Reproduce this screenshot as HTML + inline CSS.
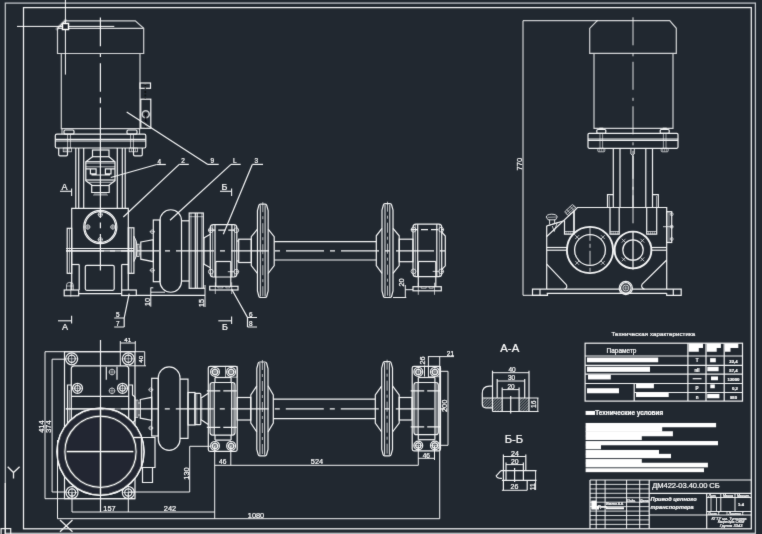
<!DOCTYPE html>
<html><head><meta charset="utf-8"><title>ДМ422-03.40.00 СБ</title>
<style>
html,body{margin:0;padding:0;background:#212830;overflow:hidden}
svg{display:block}
text{font-family:"Liberation Sans","DejaVu Sans",sans-serif;fill:#fff;stroke:#fff;stroke-width:0.22}
</style></head><body>
<svg width="762" height="534" viewBox="0 0 762 534">
<rect x="0" y="0" width="762" height="534" fill="#212830"/>
<defs><filter id="soft" x="0" y="0" width="762" height="534" filterUnits="userSpaceOnUse"><feConvolveMatrix order="3" kernelMatrix="0.015 0.07 0.015 0.07 0.66 0.07 0.015 0.07 0.015" divisor="1" edgeMode="duplicate" preserveAlpha="false"/></filter></defs>
<g fill="none" stroke="#f4f5f6" stroke-width="1.2" stroke-linecap="butt" filter="url(#soft)">
<g stroke="#c4c8cc">
<rect x="5.3" y="3.1" width="750.1" height="530.2" stroke-width="1.25"/>
</g>
<rect x="23.5" y="7.6" width="727.8" height="521.2" stroke-width="1.25"/>
<g id="front">
<g stroke="#d4d6d8">
<path d="M57.5,28.3 L65,20.8 H135.3 L143.7,28.3 V53.5 H57.5 Z"/>
<line x1="57.5" y1="28.3" x2="143.7" y2="28.3"/>
<path d="M61.3,53.5 V128.7 H140 V53.5"/>
</g>
<rect x="140" y="83" width="10.5" height="5.3"/>
<rect x="140.8" y="99.2" width="10.0" height="29.1"/>
<circle cx="145.7" cy="114.2" r="3.5" stroke-width="1.6" stroke="#c9cbcd"/>
<line x1="145.6" y1="113" x2="145.6" y2="128" stroke="#0c0f12" stroke-width="1.6"/>
<path d="M143.6,115 L145.6,111.8 L147.6,115 Z" fill="#0c0f12" stroke="none"/>
<line x1="145.4" y1="84" x2="145.4" y2="99" stroke="#0c0f12" stroke-width="1.3" stroke-dasharray="2 1.5"/>
<line x1="62" y1="128.7" x2="62" y2="134.2" stroke-width="0.9"/>
<line x1="139.6" y1="128.7" x2="139.6" y2="134.2" stroke-width="0.9"/>
<rect x="55.3" y="134.2" width="90.5" height="13.8" rx="1.5"/>
<line x1="55.3" y1="139.3" x2="145.8" y2="139.3"/>
<line x1="55.3" y1="141" x2="145.8" y2="141"/>
<line x1="67.6" y1="134.2" x2="67.6" y2="148" stroke-width="0.7"/>
<line x1="70.4" y1="134.2" x2="70.4" y2="148" stroke-width="0.7"/>
<rect x="64" y="130" width="10" height="4.2" rx="1.2"/>
<line x1="130.6" y1="134.2" x2="130.6" y2="148" stroke-width="0.7"/>
<line x1="133.4" y1="134.2" x2="133.4" y2="148" stroke-width="0.7"/>
<rect x="127" y="130" width="10" height="4.2" rx="1.2"/>
<path d="M58.7,148 V154.5 Q58.7,155.8 60,155.8 H66.2 Q67.5,155.8 67.5,154.5 V148"/>
<rect x="63.2" y="148" width="8.4" height="3.8" stroke-width="0.7"/>
<line x1="65" y1="148.5" x2="65" y2="151.5" stroke-width="0.5"/>
<line x1="67" y1="148.5" x2="67" y2="151.5" stroke-width="0.5"/>
<line x1="69" y1="148.5" x2="69" y2="151.5" stroke-width="0.5"/>
<path d="M142.3,148 V154.5 Q142.3,155.8 141,155.8 H134.8 Q133.5,155.8 133.5,154.5 V148"/>
<rect x="129.2" y="148" width="8.4" height="3.8" stroke-width="0.7"/>
<line x1="131.5" y1="148.5" x2="131.5" y2="151.5" stroke-width="0.5"/>
<line x1="133.5" y1="148.5" x2="133.5" y2="151.5" stroke-width="0.5"/>
<line x1="135.5" y1="148.5" x2="135.5" y2="151.5" stroke-width="0.5"/>
<line x1="75.8" y1="148" x2="75.8" y2="208.3"/>
<line x1="78.7" y1="148" x2="78.7" y2="208.3"/>
<line x1="83.7" y1="148" x2="83.7" y2="208.3"/>
<line x1="117.3" y1="148" x2="117.3" y2="208.3"/>
<line x1="122.3" y1="148" x2="122.3" y2="208.3"/>
<line x1="125.2" y1="148" x2="125.2" y2="208.3"/>
<rect x="92.5" y="150" width="16.5" height="6.7"/>
<path d="M92.5,156.7 L85.8,161.7 V180.8 L91.7,185 V192.5 H109.2 V185 L115,180.8 V161.7 L109,156.7"/>
<line x1="85.8" y1="161.7" x2="115" y2="161.7"/>
<line x1="85.8" y1="163.2" x2="115" y2="163.2" stroke-width="0.6"/>
<line x1="85.8" y1="180" x2="115" y2="180"/>
<line x1="87.5" y1="182.3" x2="113.3" y2="182.3" stroke-width="0.7"/>
<line x1="91.7" y1="185.5" x2="109.2" y2="185.5"/>
<path d="M85.8,168.9 H96.1 V173.8 H90.4 V168.9 M115,168.9 H105.4 V173.8 H111 V168.9 M91.5,175 H110"/>
<line x1="85.8" y1="166.8" x2="115" y2="166.8" stroke-width="0.7"/>
<line x1="95" y1="192.5" x2="95" y2="195" stroke-width="0.6"/>
<line x1="97" y1="192.5" x2="97" y2="195" stroke-width="0.6"/>
<line x1="99" y1="192.5" x2="99" y2="195" stroke-width="0.6"/>
<line x1="102" y1="192.5" x2="102" y2="195" stroke-width="0.6"/>
<line x1="104" y1="192.5" x2="104" y2="195" stroke-width="0.6"/>
<line x1="106" y1="192.5" x2="106" y2="195" stroke-width="0.6"/>
<line x1="93" y1="195" x2="108" y2="195" stroke-width="0.6"/>
<line x1="100.4" y1="17.5" x2="100.4" y2="46.3"/>
<line x1="100.4" y1="53.7" x2="100.4" y2="57"/>
<line x1="100.4" y1="63.3" x2="100.4" y2="91.7"/>
<line x1="100.4" y1="97.5" x2="100.4" y2="103.3"/>
<line x1="100.4" y1="107.5" x2="100.4" y2="218"/>
<line x1="100.4" y1="222.5" x2="100.4" y2="228.3"/>
<line x1="100.4" y1="234" x2="100.4" y2="270.5"/>
<path d="M71.7,290 V208.3 H128.3 V290"/>
<rect x="67.2" y="228.3" width="4.5" height="45.0"/>
<rect x="128.3" y="227.8" width="5.6" height="45.5"/>
<line x1="129.8" y1="228.3" x2="129.8" y2="273.3" stroke-width="0.6"/>
<line x1="131.5" y1="228.3" x2="131.5" y2="273.3" stroke-width="0.6"/>
<line x1="69.5" y1="228.3" x2="69.5" y2="273.3" stroke-width="0.6"/>
<circle cx="100.3" cy="227" r="16.6"/>
<circle cx="100.3" cy="227" r="15.4"/>
<circle cx="100.3" cy="214.6" r="2.1" stroke-width="0.7"/>
<line x1="97.7" y1="214.6" x2="102.89999999999999" y2="214.6" stroke-width="0.6"/>
<line x1="100.3" y1="212.0" x2="100.3" y2="217.2" stroke-width="0.6"/>
<circle cx="100.3" cy="239.6" r="2.1" stroke-width="0.7"/>
<line x1="97.7" y1="239.6" x2="102.89999999999999" y2="239.6" stroke-width="0.6"/>
<line x1="100.3" y1="237.0" x2="100.3" y2="242.2" stroke-width="0.6"/>
<circle cx="87.8" cy="227" r="2.1" stroke-width="0.7"/>
<line x1="85.2" y1="227" x2="90.39999999999999" y2="227" stroke-width="0.6"/>
<line x1="87.8" y1="224.4" x2="87.8" y2="229.6" stroke-width="0.6"/>
<circle cx="112.8" cy="227" r="2.1" stroke-width="0.7"/>
<line x1="110.2" y1="227" x2="115.39999999999999" y2="227" stroke-width="0.6"/>
<line x1="112.8" y1="224.4" x2="112.8" y2="229.6" stroke-width="0.6"/>
<line x1="66" y1="248.5" x2="134" y2="248.5"/>
<line x1="66" y1="250.9" x2="447" y2="250.9" stroke-dasharray="38 6 5 6"/>
<line x1="66" y1="250.9" x2="134" y2="250.9"/>
<line x1="71.7" y1="264.5" x2="79.2" y2="264.5"/>
<line x1="121.7" y1="264.5" x2="128.3" y2="264.5"/>
<line x1="79.2" y1="264.5" x2="79.2" y2="290"/>
<line x1="121.7" y1="264.5" x2="121.7" y2="290"/>
<rect x="85.3" y="265.3" width="28.9" height="25.0" rx="1.5"/>
<rect x="64.2" y="290" width="14.5" height="5.8"/>
<rect x="121.7" y="290" width="14.6" height="5.5"/>
<line x1="78.7" y1="293.7" x2="121.7" y2="293.7"/>
<line x1="70.8" y1="282.5" x2="70.8" y2="296.7" stroke-width="0.7"/>
<path d="M66.5,290 V285 Q66.5,282.3 70,282.3 Q73.3,282.3 73.3,285 V290" stroke-width="0.7"/>
<line x1="66.5" y1="286" x2="73.3" y2="286" stroke-width="0.6"/>
<line x1="136.3" y1="295.3" x2="205" y2="295.3"/>
<path d="M133.9,236.2 Q137.4,240.5 137,248.8 Q137.4,257 133.9,261.5 Z" fill="#8d9196" stroke-width="0.9"/>
<rect x="137" y="244.2" width="2.1" height="12.2" stroke-width="0.8"/>
<path d="M140.8,242 L153.3,239.7 V261.7 L140.8,259.2 Z"/>
<line x1="139.1" y1="247" x2="140.8" y2="247" stroke-width="0.7"/>
<line x1="139.1" y1="254" x2="140.8" y2="254" stroke-width="0.7"/>
<rect x="153.3" y="220" width="6.7" height="61.7"/>
<circle cx="152.3" cy="231.7" r="1.8" stroke-width="0.7"/>
<line x1="149.5" y1="231.7" x2="155" y2="231.7" stroke-width="0.6"/>
<circle cx="152.3" cy="270.3" r="1.8" stroke-width="0.7"/>
<line x1="149.5" y1="270.3" x2="155" y2="270.3" stroke-width="0.6"/>
<path d="M160,281.5 V220.5 A10.75,10.75 0 0 1 181.5,220.5 V281.5 A10.75,10.75 0 0 1 160,281.5 Z"/>
<line x1="181.5" y1="220.8" x2="189.2" y2="220.8"/>
<line x1="181.5" y1="281" x2="189.2" y2="281"/>
<rect x="189.2" y="213" width="14.1" height="75.3"/>
<line x1="189.2" y1="216.7" x2="203.3" y2="216.7" stroke-width="0.6"/>
<line x1="195.3" y1="213" x2="195.3" y2="288.3"/>
<line x1="197.2" y1="213" x2="197.2" y2="288.3"/>
<line x1="191" y1="213" x2="191" y2="288.3" stroke-width="0.6"/>
<line x1="201.8" y1="213" x2="201.8" y2="288.3" stroke-width="0.6"/>
<path d="M203.3,238.3 L210.3,234.2 M203.3,263.7 L210.3,267.8"/>
<line x1="204.5" y1="238" x2="204.5" y2="264" stroke-width="0.6"/>
<rect x="210.3" y="224.7" width="26.5" height="52.3" rx="3"/>
<line x1="212.60000000000002" y1="225.2" x2="212.60000000000002" y2="276.5" stroke-width="0.6"/>
<line x1="234.5" y1="225.2" x2="234.5" y2="276.5" stroke-width="0.6"/>
<line x1="215.0" y1="224.7" x2="215.0" y2="277"/>
<line x1="231.9" y1="224.7" x2="231.9" y2="277"/>
<circle cx="210.8" cy="230.2" r="2.4" stroke-width="0.8"/>
<circle cx="236.3" cy="230.2" r="2.4" stroke-width="0.8"/>
<circle cx="210.8" cy="271.7" r="2.4" stroke-width="0.8"/>
<circle cx="236.3" cy="271.7" r="2.4" stroke-width="0.8"/>
<line x1="208.3" y1="230.2" x2="238.8" y2="230.2" stroke-dasharray="7 3"/>
<line x1="227.8" y1="271.7" x2="238.8" y2="271.7" stroke-width="0.8" stroke-dasharray="6 2"/>
<line x1="215.8" y1="261.5" x2="230.8" y2="261.5"/>
<line x1="215.8" y1="261.5" x2="215.8" y2="286.3"/>
<line x1="230.8" y1="261.5" x2="230.8" y2="286.3"/>
<rect x="209.7" y="286.3" width="28.3" height="3.7"/>
<line x1="215.3" y1="282.3" x2="215.3" y2="294" stroke-width="0.7"/>
<line x1="231.7" y1="282.3" x2="231.7" y2="294" stroke-width="0.7"/>
<path d="M217.85,286.3 v1.6 h5 v-1.6 M225.85,286.3 v1.6 h4 v-1.6" stroke-width="0.6"/>
<line x1="236.8" y1="241" x2="238.7" y2="241"/>
<line x1="236.8" y1="261" x2="238.7" y2="261"/>
<rect x="238.7" y="239.2" width="12.6" height="23.3"/>
<path d="M257.45,210.7 L258.84999999999997,205.39999999999998 Q259.15,204.2 260.45,204.2 H265.15000000000003 Q266.45000000000005,204.2 266.75000000000006,205.39999999999998 L268.15000000000003,210.7 V291.0 L266.75000000000006,296.3 Q266.45000000000005,297.5 265.15000000000003,297.5 H260.45 Q259.15,297.5 258.84999999999997,296.3 L257.45,291.0 Z"/>
<line x1="260.3" y1="205.2" x2="260.3" y2="296.5" stroke-width="0.95"/>
<line x1="265.1" y1="205.2" x2="265.1" y2="296.5" stroke-width="0.95"/>
<line x1="262.8" y1="202.2" x2="262.8" y2="299.5" stroke-width="0.7" stroke-dasharray="10 4 3 4"/>
<path d="M257.45,229.2 L251.3,236.7 V265.5 L257.45,273.5"/>
<path d="M268.15000000000003,229.2 L274.2,236.7 V265.5 L268.15000000000003,273.5"/>
<line x1="274.2" y1="241.7" x2="376.3" y2="241.7"/>
<line x1="274.2" y1="260" x2="376.3" y2="260"/>
<path d="M382.0,210.2 L383.4,204.89999999999998 Q383.7,203.7 385.0,203.7 H390.0 Q391.3,203.7 391.6,204.89999999999998 L393.0,210.2 V291.0 L391.6,296.3 Q391.3,297.5 390.0,297.5 H385.0 Q383.7,297.5 383.4,296.3 L382.0,291.0 Z"/>
<line x1="385.0" y1="204.7" x2="385.0" y2="296.5" stroke-width="0.95"/>
<line x1="389.8" y1="204.7" x2="389.8" y2="296.5" stroke-width="0.95"/>
<line x1="387.5" y1="201.7" x2="387.5" y2="299.5" stroke-width="0.7" stroke-dasharray="10 4 3 4"/>
<path d="M382.0,228.3 L376.3,235.8 V265.5 L382.0,273.3"/>
<path d="M393.0,228.3 L399.2,235.8 V265.5 L393.0,273.3"/>
<rect x="399.2" y="239.2" width="13.8" height="22.5"/>
<rect x="413" y="224.2" width="28.7" height="52.5" rx="3"/>
<line x1="415.3" y1="224.7" x2="415.3" y2="276.2" stroke-width="0.6"/>
<line x1="439.4" y1="224.7" x2="439.4" y2="276.2" stroke-width="0.6"/>
<line x1="417.7" y1="224.2" x2="417.7" y2="276.7"/>
<line x1="436.8" y1="224.2" x2="436.8" y2="276.7"/>
<circle cx="413.5" cy="229.7" r="2.4" stroke-width="0.8"/>
<circle cx="441.2" cy="229.7" r="2.4" stroke-width="0.8"/>
<circle cx="413.5" cy="271.4" r="2.4" stroke-width="0.8"/>
<circle cx="441.2" cy="271.4" r="2.4" stroke-width="0.8"/>
<line x1="411" y1="229.7" x2="443.7" y2="229.7" stroke-dasharray="7 3"/>
<line x1="432.7" y1="271.4" x2="443.7" y2="271.4" stroke-width="0.8" stroke-dasharray="6 2"/>
<line x1="418.3" y1="261.5" x2="435.8" y2="261.5"/>
<line x1="418.3" y1="261.5" x2="418.3" y2="286.7"/>
<line x1="435.8" y1="261.5" x2="435.8" y2="286.7"/>
<rect x="413" y="286.7" width="28.3" height="4.1"/>
<line x1="418.3" y1="282.7" x2="418.3" y2="294.8" stroke-width="0.7"/>
<line x1="434.5" y1="282.7" x2="434.5" y2="294.8" stroke-width="0.7"/>
<path d="M421.15,286.7 v1.6 h5 v-1.6 M429.15,286.7 v1.6 h4 v-1.6" stroke-width="0.6"/>
<path d="M441.7,232 L445.3,236 V265.8 L441.7,269.5"/>
<line x1="393" y1="297.5" x2="406.3" y2="297.5" stroke-width="1"/>
<line x1="405.3" y1="285" x2="405.3" y2="297.5" stroke-width="1"/>
<line x1="405.3" y1="289.7" x2="413" y2="289.7" stroke-width="1"/>
<text x="404.3" y="286.5" font-size="7.4" text-anchor="start" transform="rotate(-90 404.3 286.5)">20</text>
<line x1="150.8" y1="287.5" x2="150.8" y2="306.7" stroke-width="1"/>
<line x1="150.8" y1="287.8" x2="153.3" y2="287.8" stroke-width="1"/>
<line x1="150.8" y1="292.2" x2="165" y2="292.2" stroke-width="1"/>
<text x="150" y="306" font-size="7.4" text-anchor="start" transform="rotate(-90 150 306)">10</text>
<line x1="205" y1="285" x2="205" y2="307" stroke-width="1"/>
<line x1="203.3" y1="288.3" x2="205" y2="288.3" stroke-width="1"/>
<text x="204" y="307" font-size="7.4" text-anchor="start" transform="rotate(-90 204 307)">15</text>
<line x1="126.7" y1="112" x2="207.9" y2="164.4"/>
<line x1="207.9" y1="164.4" x2="218.7" y2="164.4"/>
<text x="210.5" y="163.3" font-size="6.4" text-anchor="start" stroke-width="0.05" fill="#e8e8e8">9</text>
<line x1="110.8" y1="177.5" x2="156.7" y2="164.5"/>
<line x1="156.7" y1="164.5" x2="165.8" y2="164.5"/>
<text x="157.5" y="163.5" font-size="6.4" text-anchor="start" stroke-width="0.05" fill="#e8e8e8">4</text>
<line x1="123.3" y1="217" x2="179.2" y2="164.4"/>
<line x1="179.2" y1="164.4" x2="188.8" y2="164.4"/>
<text x="181.3" y="163.3" font-size="6.4" text-anchor="start" stroke-width="0.05" fill="#e8e8e8">2</text>
<line x1="170" y1="220.3" x2="231" y2="164.4"/>
<line x1="231" y1="164.4" x2="240.7" y2="164.4"/>
<text x="233" y="163.3" font-size="6.4" text-anchor="start" stroke-width="0.05" fill="#e8e8e8">L</text>
<line x1="223.3" y1="234.2" x2="252.3" y2="164.4"/>
<line x1="252.3" y1="164.4" x2="263" y2="164.4"/>
<text x="254.5" y="163.3" font-size="6.4" text-anchor="start" stroke-width="0.05" fill="#e8e8e8">3</text>
<path d="M129.2,293.7 L124.2,318 V327 M114.2,318 H124.2 M114.2,327 H124.2"/>
<text x="116" y="317.3" font-size="6.4" text-anchor="start" stroke-width="0.05" fill="#e8e8e8">5</text>
<text x="116" y="326.3" font-size="6.4" text-anchor="start" stroke-width="0.05" fill="#e8e8e8">7</text>
<path d="M231.7,289.2 L247.5,317.5 V327 M247.5,317.5 H257 M247.5,327 H257"/>
<text x="249" y="316.8" font-size="6.4" text-anchor="start" stroke-width="0.05" fill="#e8e8e8">6</text>
<text x="249" y="326.3" font-size="6.4" text-anchor="start" stroke-width="0.05" fill="#e8e8e8">8</text>
<text x="61.5" y="189.8" font-size="9" text-anchor="start">А</text>
<line x1="60" y1="191.3" x2="71.7" y2="191.3" stroke-width="1.1"/>
<line x1="71.6" y1="188.5" x2="71.6" y2="196" stroke-width="1.1"/>
<line x1="58" y1="320.8" x2="71.7" y2="320.8" stroke-width="1.1"/>
<line x1="71.6" y1="315.8" x2="71.6" y2="323.5" stroke-width="1.1"/>
<text x="62" y="329.5" font-size="9" text-anchor="start">А</text>
<text x="221.5" y="189.8" font-size="9" text-anchor="start">Б</text>
<line x1="220" y1="191.3" x2="231.7" y2="191.3" stroke-width="1.1"/>
<line x1="231.6" y1="188.5" x2="231.6" y2="196" stroke-width="1.1"/>
<line x1="218.3" y1="320.8" x2="231.7" y2="320.8" stroke-width="1.1"/>
<line x1="231.6" y1="316.5" x2="231.6" y2="324" stroke-width="1.1"/>
<text x="222" y="329.5" font-size="9" text-anchor="start">Б</text>
</g>
<g stroke="#ffffff">
<line x1="65.4" y1="0" x2="65.4" y2="74.6" stroke-width="1"/>
<line x1="17" y1="26.4" x2="114.3" y2="26.4" stroke-width="1"/>
<rect x="62.4" y="23.4" width="6.2" height="6.2" stroke-width="1.3" fill="#212830"/>
<line x1="57" y1="28.8" x2="65.5" y2="20.3" stroke-width="3.2" stroke-opacity="0.3" stroke-linecap="round"/>
</g>
<g id="side">
<g stroke="#d4d6d8">
<path d="M589.7,28.3 L597.3,20.7 H669.7 L676.3,28.3 V53.3 H589.7 Z"/>
<path d="M594,53.3 V128.3 H673 V53.3"/>
</g>
<rect x="588" y="133.3" width="90" height="15.0" rx="1.2"/>
<line x1="588" y1="139" x2="678" y2="139"/>
<line x1="588" y1="140.4" x2="678" y2="140.4"/>
<rect x="596.8" y="129.5" width="9.0" height="3.8" rx="1"/>
<line x1="599.3" y1="128.3" x2="603.3" y2="128.3"/>
<line x1="600.0" y1="133.3" x2="600.0" y2="148.3" stroke-width="0.6"/>
<line x1="602.5999999999999" y1="133.3" x2="602.5999999999999" y2="148.3" stroke-width="0.6"/>
<rect x="597.8" y="148.3" width="7.0" height="3.5" rx="1" stroke-width="0.7"/>
<line x1="599.3" y1="148.5" x2="599.3" y2="151.5" stroke-width="0.5"/>
<line x1="601.3" y1="148.5" x2="601.3" y2="151.5" stroke-width="0.5"/>
<line x1="603.3" y1="148.5" x2="603.3" y2="151.5" stroke-width="0.5"/>
<rect x="660.2" y="129.5" width="9.0" height="3.8" rx="1"/>
<line x1="662.7" y1="128.3" x2="666.7" y2="128.3"/>
<line x1="663.4000000000001" y1="133.3" x2="663.4000000000001" y2="148.3" stroke-width="0.6"/>
<line x1="666.0" y1="133.3" x2="666.0" y2="148.3" stroke-width="0.6"/>
<rect x="661.2" y="148.3" width="7.0" height="3.5" rx="1" stroke-width="0.7"/>
<line x1="662.7" y1="148.5" x2="662.7" y2="151.5" stroke-width="0.5"/>
<line x1="664.7" y1="148.5" x2="664.7" y2="151.5" stroke-width="0.5"/>
<line x1="666.7" y1="148.5" x2="666.7" y2="151.5" stroke-width="0.5"/>
<line x1="633" y1="17.3" x2="633" y2="232" stroke-width="0.9" stroke-dasharray="28 8 3 5.5"/>
<line x1="613.3" y1="148.3" x2="613.3" y2="207.5"/>
<line x1="620" y1="148.3" x2="620" y2="207.5"/>
<line x1="645.8" y1="148.3" x2="645.8" y2="207.5"/>
<line x1="652.5" y1="148.3" x2="652.5" y2="207.5"/>
<path d="M630.9,148.3 V154 Q632.6,157 634.3,154 V148.3" stroke-width="0.9"/>
<line x1="633" y1="156" x2="633" y2="207.5" stroke-width="1.25"/>
<line x1="633" y1="232" x2="633" y2="269.5" stroke-width="1.25"/>
<path d="M613.3,194.7 H607.5 V207.5"/>
<path d="M652.5,194.7 H658.3 V207.5"/>
<line x1="609.3" y1="196" x2="609.3" y2="207.5" stroke-width="0.6"/>
<line x1="656.5" y1="196" x2="656.5" y2="207.5" stroke-width="0.6"/>
<path d="M546.7,289.2 V236.5 L577.5,207.5 H666.7 V289.2"/>
<path d="M610,207.5 V234.2 H619.2 V207.5"/>
<line x1="610" y1="231.5" x2="619.2" y2="231.5" stroke-width="0.7"/>
<line x1="611.9" y1="231.5" x2="611.9" y2="234.2" stroke-width="0.5"/>
<line x1="613.8" y1="231.5" x2="613.8" y2="234.2" stroke-width="0.5"/>
<line x1="615.7" y1="231.5" x2="615.7" y2="234.2" stroke-width="0.5"/>
<line x1="617.6" y1="231.5" x2="617.6" y2="234.2" stroke-width="0.5"/>
<path d="M646.7,207.5 V234.2 H656.7 V207.5"/>
<line x1="646.7" y1="231.5" x2="656.7" y2="231.5" stroke-width="0.7"/>
<line x1="648.6" y1="231.5" x2="648.6" y2="234.2" stroke-width="0.5"/>
<line x1="650.5" y1="231.5" x2="650.5" y2="234.2" stroke-width="0.5"/>
<line x1="652.4000000000001" y1="231.5" x2="652.4000000000001" y2="234.2" stroke-width="0.5"/>
<line x1="654.3000000000001" y1="231.5" x2="654.3000000000001" y2="234.2" stroke-width="0.5"/>
<path d="M564.5,220.3 V234.2 H574 V211"/>
<line x1="574" y1="211" x2="574" y2="234.2" stroke-width="1.3"/>
<line x1="564.2" y1="231.5" x2="574.2" y2="231.5" stroke-width="0.7"/>
<line x1="566.2" y1="231.5" x2="566.2" y2="234.2" stroke-width="0.5"/>
<line x1="568.2" y1="231.5" x2="568.2" y2="234.2" stroke-width="0.5"/>
<line x1="570.2" y1="231.5" x2="570.2" y2="234.2" stroke-width="0.5"/>
<line x1="572.2" y1="231.5" x2="572.2" y2="234.2" stroke-width="0.5"/>
<circle cx="590" cy="250" r="23.1" stroke-width="1.9"/>
<circle cx="590" cy="250" r="15.4" stroke-width="1.3"/>
<circle cx="633" cy="250" r="18.4" stroke-width="1.9"/>
<circle cx="633" cy="250" r="10.2" stroke-width="1.3"/>
<line x1="600.9693434175952" y1="260.9693434175952" x2="604.7693434175951" y2="264.76934341759517" stroke-width="0.7"/>
<line x1="600.9693434175952" y1="264.76934341759517" x2="604.7693434175951" y2="260.9693434175952" stroke-width="0.7"/>
<line x1="575.2306565824049" y1="260.9693434175952" x2="579.0306565824048" y2="264.76934341759517" stroke-width="0.7"/>
<line x1="575.2306565824049" y1="264.76934341759517" x2="579.0306565824048" y2="260.9693434175952" stroke-width="0.7"/>
<line x1="575.2306565824049" y1="235.23065658240483" x2="579.0306565824048" y2="239.03065658240484" stroke-width="0.7"/>
<line x1="575.2306565824049" y1="239.03065658240484" x2="579.0306565824048" y2="235.23065658240483" stroke-width="0.7"/>
<line x1="600.9693434175952" y1="235.23065658240483" x2="604.7693434175951" y2="239.03065658240484" stroke-width="0.7"/>
<line x1="600.9693434175952" y1="239.03065658240484" x2="604.7693434175951" y2="235.23065658240483" stroke-width="0.7"/>
<line x1="640.4338095116625" y1="257.43380951166245" x2="644.2338095116625" y2="261.2338095116624" stroke-width="0.7"/>
<line x1="640.4338095116625" y1="261.2338095116624" x2="644.2338095116625" y2="257.43380951166245" stroke-width="0.7"/>
<line x1="621.7661904883375" y1="257.43380951166245" x2="625.5661904883375" y2="261.2338095116624" stroke-width="0.7"/>
<line x1="621.7661904883375" y1="261.2338095116624" x2="625.5661904883375" y2="257.43380951166245" stroke-width="0.7"/>
<line x1="621.7661904883375" y1="238.76619048833757" x2="625.5661904883375" y2="242.56619048833758" stroke-width="0.7"/>
<line x1="621.7661904883375" y1="242.56619048833758" x2="625.5661904883375" y2="238.76619048833757" stroke-width="0.7"/>
<line x1="640.4338095116625" y1="238.76619048833757" x2="644.2338095116625" y2="242.56619048833758" stroke-width="0.7"/>
<line x1="640.4338095116625" y1="242.56619048833758" x2="644.2338095116625" y2="238.76619048833757" stroke-width="0.7"/>
<line x1="590" y1="226.8" x2="590" y2="273.2" stroke-width="0.8" stroke-dasharray="14 3 4 3"/>
<line x1="546.7" y1="247.5" x2="567" y2="247.5"/>
<line x1="546.7" y1="250.2" x2="567" y2="250.2"/>
<line x1="651.5" y1="247.5" x2="666.7" y2="247.5"/>
<line x1="651.5" y1="250.2" x2="666.7" y2="250.2"/>
<rect x="666.7" y="211.7" width="5.0" height="30.8"/>
<line x1="669" y1="211.7" x2="669" y2="242.5" stroke-width="0.6"/>
<circle cx="671.7" cy="214.2" r="1.5" stroke-width="0.7"/>
<circle cx="671.7" cy="226.7" r="1.5" stroke-width="0.7"/>
<circle cx="671.7" cy="239" r="1.5" stroke-width="0.7"/>
<line x1="663" y1="226.7" x2="673" y2="226.7" stroke-width="0.8"/>
<path d="M546.7,264.2 L566.2,284.5 Q568,287.5 564.5,289.2"/>
<path d="M666.7,260 L642.2,284 Q640.3,287.5 644.5,289.2"/>
<line x1="546.7" y1="289.2" x2="666.7" y2="289.2"/>
<line x1="546.7" y1="293.3" x2="666.7" y2="293.3"/>
<path d="M546.7,289.2 H532.5 V295.3 H547.5 V293.3"/>
<line x1="540" y1="289.2" x2="540" y2="295.3"/>
<path d="M666.7,289.2 H681.2 V295.3 H666.7 V293.3"/>
<line x1="673.3" y1="289.2" x2="673.3" y2="295.3"/>
<circle cx="625.8" cy="288" r="6.6" fill="#212830"/>
<circle cx="625.8" cy="288" r="5.3"/>
<circle cx="625.8" cy="288" r="3" stroke-width="0.8"/>
<line x1="623.5" y1="288" x2="628.1" y2="288" stroke-width="0.6"/>
<line x1="625.8" y1="285.7" x2="625.8" y2="290.3" stroke-width="0.6"/>
<line x1="619" y1="293.3" x2="632.5" y2="293.3"/>
<path d="M546.3,217.2 Q546.3,214.4 551.6,214.2 Q557,214.3 557.2,217 L555.6,219.8 H548 Z" stroke-width="0.9"/>
<line x1="547.5" y1="217.3" x2="556.5" y2="217" stroke-width="0.6"/>
<path d="M549.6,219.8 V224 M554.6,219.8 V223.2 M547.4,225.6 L558.2,222.6" stroke-width="0.9"/>
<line x1="546.7" y1="226" x2="563" y2="221.2"/>
<line x1="546.7" y1="225.8" x2="546.7" y2="237"/>
<path d="M552.3,226 L554.2,231.5 L556.8,223.8" stroke-width="0.8"/>
<g transform="rotate(-43 570.8 210.4)" stroke-width="0.8">
<rect x="565.3" y="207.2" width="11.0" height="6.0" rx="1"/>
<line x1="565.3" y1="209.2" x2="576.3" y2="209.2" stroke-width="0.6"/>
<line x1="565.3" y1="211.2" x2="576.3" y2="211.2" stroke-width="0.6"/>
<line x1="568.5" y1="207.2" x2="568.5" y2="213.2" stroke-width="0.6"/>
<line x1="573" y1="207.2" x2="573" y2="213.2" stroke-width="0.6"/>
</g>
<line x1="523" y1="20.7" x2="523" y2="295.3" stroke-width="1"/>
<line x1="523" y1="20.7" x2="598" y2="20.7" stroke-width="1"/>
<line x1="523" y1="295.3" x2="547.5" y2="295.3" stroke-width="1"/>
<text x="522" y="170.5" font-size="7.6" text-anchor="start" transform="rotate(-90 522 170.5)">770</text>
</g>
<g id="plan">
<rect x="64.5" y="351.7" width="70.5" height="147.0"/>
<circle cx="71.7" cy="358.8" r="6"/>
<circle cx="71.7" cy="358.8" r="3.6"/>
<line x1="66.2" y1="358.8" x2="77.2" y2="358.8" stroke-width="0.6"/>
<line x1="71.7" y1="353.3" x2="71.7" y2="364.3" stroke-width="0.6"/>
<circle cx="128.3" cy="358.8" r="6"/>
<circle cx="128.3" cy="358.8" r="3.6"/>
<line x1="122.80000000000001" y1="358.8" x2="133.8" y2="358.8" stroke-width="0.6"/>
<line x1="128.3" y1="353.3" x2="128.3" y2="364.3" stroke-width="0.6"/>
<circle cx="72" cy="492.5" r="6"/>
<circle cx="72" cy="492.5" r="3.6"/>
<line x1="66.5" y1="492.5" x2="77.5" y2="492.5" stroke-width="0.6"/>
<line x1="72" y1="487.0" x2="72" y2="498.0" stroke-width="0.6"/>
<circle cx="128.3" cy="492.5" r="6"/>
<circle cx="128.3" cy="492.5" r="3.6"/>
<line x1="122.80000000000001" y1="492.5" x2="133.8" y2="492.5" stroke-width="0.6"/>
<line x1="128.3" y1="487.0" x2="128.3" y2="498.0" stroke-width="0.6"/>
<path d="M71.3,452 V368.8 Q71.3,365.8 74.3,365.8 H125.7 Q128.7,365.8 128.7,368.8 V452"/>
<line x1="71.3" y1="396.3" x2="128.7" y2="396.3"/>
<path d="M71.3,385 H67.5 V452"/>
<path d="M128.7,385 H132.5 V395 L135,397"/>
<line x1="69.3" y1="390" x2="69.3" y2="452" stroke-width="0.6"/>
<circle cx="77.5" cy="388.3" r="5"/>
<circle cx="77.5" cy="388.3" r="2.8"/>
<line x1="73.0" y1="388.3" x2="82.0" y2="388.3" stroke-width="0.6"/>
<line x1="77.5" y1="383.8" x2="77.5" y2="392.8" stroke-width="0.6"/>
<circle cx="122.5" cy="388.3" r="5"/>
<circle cx="122.5" cy="388.3" r="2.8"/>
<line x1="118.0" y1="388.3" x2="127.0" y2="388.3" stroke-width="0.6"/>
<line x1="122.5" y1="383.8" x2="122.5" y2="392.8" stroke-width="0.6"/>
<circle cx="112" cy="372" r="2.8" stroke-width="0.7"/>
<line x1="108.6" y1="372" x2="115.4" y2="372" stroke-width="0.5"/>
<line x1="112" y1="368.6" x2="112" y2="375.4" stroke-width="0.5"/>
<circle cx="112" cy="390.8" r="2.8" stroke-width="0.7"/>
<line x1="108.6" y1="390.8" x2="115.4" y2="390.8" stroke-width="0.5"/>
<line x1="112" y1="387.40000000000003" x2="112" y2="394.2" stroke-width="0.5"/>
<line x1="106.3" y1="366.7" x2="106.3" y2="379.7"/>
<line x1="117" y1="366.7" x2="117" y2="379.7"/>
<line x1="100.5" y1="340" x2="100.5" y2="512"/>
<circle cx="100.5" cy="451.7" r="43.6" fill="#212830"/>
<circle cx="100.5" cy="451.7" r="43.6"/>
<circle cx="100.5" cy="451.7" r="35.6"/>
<line x1="66.7" y1="451.7" x2="133.3" y2="451.7"/>
<line x1="100.5" y1="408" x2="100.5" y2="496"/>
<line x1="65.8" y1="408.9" x2="447" y2="408.9" stroke-dasharray="38 6 5 6"/>
<line x1="65.8" y1="408.9" x2="140" y2="408.9" stroke-width="0.7"/>
<path d="M135,397 V420.5 L132.5,423"/>
<path d="M135,400 H138 V417.5 H135" stroke-width="0.7"/>
<line x1="136.5" y1="400" x2="136.5" y2="417.5" stroke-width="0.5"/>
<path d="M140.3,399.5 L151.7,397.3 V420.3 L140.3,418.2 Z"/>
<line x1="138" y1="403" x2="140.3" y2="403" stroke-width="0.7"/>
<line x1="138" y1="415" x2="140.3" y2="415" stroke-width="0.7"/>
<path d="M133,437.5 H155 V467.5 H141.7"/>
<line x1="141.7" y1="437.5" x2="141.7" y2="467.5"/>
<path d="M142.5,467.5 V482.5 H152.5 V467.5"/>
<rect x="151.7" y="378.3" width="6.6" height="57.7"/>
<circle cx="150.8" cy="389.7" r="1.8" stroke-width="0.7"/>
<line x1="148.3" y1="389.7" x2="153.5" y2="389.7" stroke-width="0.5"/>
<circle cx="150.8" cy="428" r="1.8" stroke-width="0.7"/>
<line x1="148.3" y1="428" x2="153.5" y2="428" stroke-width="0.5"/>
<path d="M158.3,439.5 V377.8 A10.85,10.85 0 0 1 180,377.8 V439.5 A10.85,10.85 0 0 1 158.3,439.5 Z"/>
<path d="M180,379.2 H188 V438.3 H180"/>
<rect x="188" y="392.5" width="7" height="32.5"/>
<rect x="195" y="393.3" width="5.8" height="31.4" rx="1"/>
<line x1="196.8" y1="394" x2="196.8" y2="424" stroke-width="0.5"/>
<line x1="201.8" y1="399" x2="201.8" y2="419" stroke-width="0.6"/>
<path d="M200.8,398.3 L208.3,393.3 M200.8,419.5 L208.3,424.5"/>
<rect x="208.3" y="366.3" width="28.9" height="85.0" rx="1.8"/>
<circle cx="215" cy="371.90000000000003" r="4.4"/>
<circle cx="215" cy="371.90000000000003" r="2.6"/>
<line x1="211.1" y1="371.90000000000003" x2="218.9" y2="371.90000000000003" stroke-width="0.6"/>
<line x1="215" y1="368.00000000000006" x2="215" y2="375.8" stroke-width="0.6"/>
<circle cx="231.1" cy="371.90000000000003" r="4.4"/>
<circle cx="231.1" cy="371.90000000000003" r="2.6"/>
<line x1="227.2" y1="371.90000000000003" x2="235.0" y2="371.90000000000003" stroke-width="0.6"/>
<line x1="231.1" y1="368.00000000000006" x2="231.1" y2="375.8" stroke-width="0.6"/>
<circle cx="215" cy="445.90000000000003" r="4.4"/>
<circle cx="215" cy="445.90000000000003" r="2.6"/>
<line x1="211.1" y1="445.90000000000003" x2="218.9" y2="445.90000000000003" stroke-width="0.6"/>
<line x1="215" y1="442.00000000000006" x2="215" y2="449.8" stroke-width="0.6"/>
<circle cx="231.1" cy="445.90000000000003" r="4.4"/>
<circle cx="231.1" cy="445.90000000000003" r="2.6"/>
<line x1="227.2" y1="445.90000000000003" x2="235.0" y2="445.90000000000003" stroke-width="0.6"/>
<line x1="231.1" y1="442.00000000000006" x2="231.1" y2="449.8" stroke-width="0.6"/>
<rect x="225.6" y="366.3" width="11.6" height="10.8" stroke-width="0.7"/>
<line x1="215" y1="377.5" x2="215" y2="382.5"/>
<line x1="231.1" y1="377.5" x2="231.1" y2="382.5"/>
<line x1="215" y1="377.5" x2="231.1" y2="377.5"/>
<line x1="215" y1="440.1" x2="215" y2="435.1"/>
<line x1="231.1" y1="440.1" x2="231.1" y2="435.1"/>
<line x1="215" y1="440.1" x2="231.1" y2="440.1"/>
<rect x="210.10000000000002" y="382.5" width="24.9" height="52.6" rx="2.5"/>
<line x1="214.20000000000002" y1="382.5" x2="214.20000000000002" y2="435.1"/>
<line x1="231.7" y1="382.5" x2="231.7" y2="435.1"/>
<line x1="212.10000000000002" y1="383.3" x2="212.10000000000002" y2="434.3" stroke-width="0.5"/>
<line x1="233.39999999999998" y1="383.3" x2="233.39999999999998" y2="434.3" stroke-width="0.5"/>
<line x1="206.8" y1="390.8" x2="238.7" y2="390.8" stroke-dasharray="13.5 3"/>
<line x1="206.8" y1="427.3" x2="238.7" y2="427.3" stroke-dasharray="13.5 3"/>
<rect x="237.2" y="397.5" width="13.6" height="22.5"/>
<path d="M256.79999999999995,368.5 L258.19999999999993,363.2 Q258.49999999999994,362 259.79999999999995,362 H265.0 Q266.3,362 266.6,363.2 L268.0,368.5 V449.3 L266.6,454.6 Q266.3,455.8 265.0,455.8 H259.79999999999995 Q258.49999999999994,455.8 258.19999999999993,454.6 L256.79999999999995,449.3 Z"/>
<line x1="259.9" y1="363" x2="259.9" y2="454.8" stroke-width="0.95"/>
<line x1="264.7" y1="363" x2="264.7" y2="454.8" stroke-width="0.95"/>
<line x1="262.4" y1="360" x2="262.4" y2="457.8" stroke-width="0.7" stroke-dasharray="10 4 3 4"/>
<path d="M256.79999999999995,385.8 L250.8,395 V423 L256.79999999999995,432"/>
<path d="M268.0,385.8 L273.3,395 V423 L268.0,432"/>
<line x1="273.3" y1="399.2" x2="375.3" y2="399.2"/>
<line x1="273.3" y1="418.7" x2="375.3" y2="418.7"/>
<path d="M381.70000000000005,368.2 L383.1,362.9 Q383.40000000000003,361.7 384.70000000000005,361.7 H389.5 Q390.8,361.7 391.1,362.9 L392.5,368.2 V449.3 L391.1,454.6 Q390.8,455.8 389.5,455.8 H384.70000000000005 Q383.40000000000003,455.8 383.1,454.6 L381.70000000000005,449.3 Z"/>
<line x1="384.6" y1="362.7" x2="384.6" y2="454.8" stroke-width="0.95"/>
<line x1="389.40000000000003" y1="362.7" x2="389.40000000000003" y2="454.8" stroke-width="0.95"/>
<line x1="387.1" y1="359.7" x2="387.1" y2="457.8" stroke-width="0.7" stroke-dasharray="10 4 3 4"/>
<path d="M381.70000000000005,385.8 L375.3,395 V423 L381.70000000000005,432"/>
<path d="M392.5,385.8 L399.2,395 V423 L392.5,432"/>
<rect x="399.2" y="397.5" width="12.8" height="22.5"/>
<rect x="412.2" y="366.3" width="28.3" height="84.6" rx="1.8"/>
<circle cx="418.3" cy="371.90000000000003" r="4.4"/>
<circle cx="418.3" cy="371.90000000000003" r="2.6"/>
<line x1="414.40000000000003" y1="371.90000000000003" x2="422.2" y2="371.90000000000003" stroke-width="0.6"/>
<line x1="418.3" y1="368.00000000000006" x2="418.3" y2="375.8" stroke-width="0.6"/>
<circle cx="434.9" cy="371.90000000000003" r="4.4"/>
<circle cx="434.9" cy="371.90000000000003" r="2.6"/>
<line x1="431.0" y1="371.90000000000003" x2="438.79999999999995" y2="371.90000000000003" stroke-width="0.6"/>
<line x1="434.9" y1="368.00000000000006" x2="434.9" y2="375.8" stroke-width="0.6"/>
<circle cx="418.3" cy="445.5" r="4.4"/>
<circle cx="418.3" cy="445.5" r="2.6"/>
<line x1="414.40000000000003" y1="445.5" x2="422.2" y2="445.5" stroke-width="0.6"/>
<line x1="418.3" y1="441.6" x2="418.3" y2="449.4" stroke-width="0.6"/>
<circle cx="434.9" cy="445.5" r="4.4"/>
<circle cx="434.9" cy="445.5" r="2.6"/>
<line x1="431.0" y1="445.5" x2="438.79999999999995" y2="445.5" stroke-width="0.6"/>
<line x1="434.9" y1="441.6" x2="434.9" y2="449.4" stroke-width="0.6"/>
<line x1="418.3" y1="377.5" x2="418.3" y2="382.5"/>
<line x1="434.9" y1="377.5" x2="434.9" y2="382.5"/>
<line x1="418.3" y1="377.5" x2="434.9" y2="377.5"/>
<line x1="418.3" y1="439.7" x2="418.3" y2="434.7"/>
<line x1="434.9" y1="439.7" x2="434.9" y2="434.7"/>
<line x1="418.3" y1="439.7" x2="434.9" y2="439.7"/>
<rect x="414.0" y="382.5" width="24.3" height="52.2" rx="2.5"/>
<line x1="418.09999999999997" y1="382.5" x2="418.09999999999997" y2="434.7"/>
<line x1="435.0" y1="382.5" x2="435.0" y2="434.7"/>
<line x1="416.0" y1="383.3" x2="416.0" y2="433.9" stroke-width="0.5"/>
<line x1="436.7" y1="383.3" x2="436.7" y2="433.9" stroke-width="0.5"/>
<line x1="410.7" y1="390.8" x2="442.0" y2="390.8" stroke-dasharray="13.5 3"/>
<line x1="410.7" y1="426.9" x2="442.0" y2="426.9" stroke-dasharray="13.5 3"/>
<rect x="428.4" y="366.3" width="12.1" height="10.5" stroke-width="0.7"/>
<line x1="45" y1="351.7" x2="45" y2="498.7" stroke-width="1.0"/>
<line x1="45" y1="351.7" x2="144.7" y2="351.7" stroke-width="1.0"/>
<line x1="45" y1="498.7" x2="135" y2="498.7" stroke-width="1.0"/>
<line x1="52.1" y1="359.2" x2="52.1" y2="492" stroke-width="1.0"/>
<line x1="52.1" y1="359.2" x2="66" y2="359.2" stroke-width="1.0"/>
<line x1="52.1" y1="492" x2="66" y2="492" stroke-width="1.0"/>
<text x="44.2" y="432.8" font-size="7.4" text-anchor="start" transform="rotate(-90 44.2 432.8)">414</text>
<text x="51.3" y="432.8" font-size="7.4" text-anchor="start" transform="rotate(-90 51.3 432.8)">374</text>
<line x1="120.3" y1="343" x2="135.3" y2="343" stroke-width="1.0"/>
<line x1="120.3" y1="341" x2="120.3" y2="366" stroke-width="1.0"/>
<line x1="135.3" y1="341" x2="135.3" y2="352" stroke-width="1.0"/>
<text x="127.8" y="342" font-size="6.2" text-anchor="middle">41</text>
<line x1="144.7" y1="351.7" x2="144.7" y2="365.8" stroke-width="1.0"/>
<line x1="129" y1="365.8" x2="146" y2="365.8" stroke-width="1.0"/>
<text x="143.5" y="362.8" font-size="6.2" text-anchor="start" transform="rotate(-90 143.5 362.8)">40</text>
<line x1="57.5" y1="440" x2="57.5" y2="518.7" stroke-width="1.0"/>
<line x1="57.5" y1="518.7" x2="439.7" y2="518.7" stroke-width="1.0"/>
<text x="256" y="517.6" font-size="7.4" text-anchor="middle">1080</text>
<line x1="72" y1="492.5" x2="72" y2="512" stroke-width="1.0"/>
<line x1="128.3" y1="492.5" x2="128.3" y2="512" stroke-width="1.0"/>
<line x1="72" y1="512" x2="214.7" y2="512" stroke-width="1.0"/>
<text x="109.5" y="511" font-size="7.4" text-anchor="middle">157</text>
<text x="170" y="511" font-size="7.4" text-anchor="middle">242</text>
<line x1="214.7" y1="446" x2="214.7" y2="518.7" stroke-width="1.0"/>
<line x1="230.8" y1="446" x2="230.8" y2="465.3" stroke-width="1.0"/>
<line x1="214.7" y1="465.3" x2="418.3" y2="465.3" stroke-width="1.0"/>
<line x1="418.3" y1="446" x2="418.3" y2="465.3" stroke-width="1.0"/>
<text x="222.7" y="464.3" font-size="6.6" text-anchor="middle">46</text>
<text x="317" y="464.3" font-size="7.4" text-anchor="middle">524</text>
<line x1="189.7" y1="446.3" x2="189.7" y2="492" stroke-width="1.0"/>
<line x1="189.7" y1="446.3" x2="210" y2="446.3" stroke-width="1.0"/>
<line x1="128.3" y1="492" x2="189.7" y2="492" stroke-width="1.0"/>
<text x="188.8" y="479.7" font-size="7.4" text-anchor="start" transform="rotate(-90 188.8 479.7)">130</text>
<line x1="418" y1="458.3" x2="434.5" y2="458.3" stroke-width="1.0"/>
<line x1="434.5" y1="446" x2="434.5" y2="460" stroke-width="1.0"/>
<text x="426.3" y="457.5" font-size="6.6" text-anchor="middle">46</text>
<line x1="428.4" y1="356" x2="428.4" y2="376.5" stroke-width="1.0"/>
<line x1="424.5" y1="365.5" x2="424.5" y2="376.5" stroke-width="1.0"/>
<line x1="428.4" y1="356.6" x2="454" y2="356.6" stroke-width="1.0"/>
<line x1="439.7" y1="356.6" x2="439.7" y2="518.7" stroke-width="1.0"/>
<text x="424.8" y="364.5" font-size="7.4" text-anchor="start" transform="rotate(-90 424.8 364.5)">26</text>
<text x="450.5" y="356" font-size="6.6" text-anchor="middle">21</text>
<line x1="448" y1="371.3" x2="448" y2="445.3" stroke-width="1.0"/>
<line x1="440.8" y1="371.3" x2="448" y2="371.3" stroke-width="1.0"/>
<line x1="440.8" y1="445.3" x2="448" y2="445.3" stroke-width="1.0"/>
<text x="447" y="412" font-size="7.4" text-anchor="start" transform="rotate(-90 447 412)">200</text>
</g>
<defs><pattern id="h" width="2" height="2" patternUnits="userSpaceOnUse" patternTransform="rotate(45)"><line x1="0" y1="0" x2="0" y2="2" stroke="#dfe2e4" stroke-width="0.9"/></pattern></defs>
<g id="sections">
<text x="500.3" y="352" font-size="10.4" text-anchor="start" textLength="18.9" lengthAdjust="spacingAndGlyphs" stroke-width="0.45">А-А</text>
<line x1="492.5" y1="372.7" x2="529" y2="372.7" stroke-width="1.0"/>
<text x="512" y="371.8" font-size="6.5" text-anchor="middle">40</text>
<line x1="497.2" y1="381" x2="524.7" y2="381" stroke-width="1.0"/>
<text x="511.5" y="380.1" font-size="6.5" text-anchor="middle">30</text>
<line x1="502.2" y1="389.6" x2="519.1" y2="389.6" stroke-width="1.0"/>
<text x="511" y="388.8" font-size="6.5" text-anchor="middle">20</text>
<line x1="492.5" y1="370.7" x2="492.5" y2="411.5"/>
<line x1="529" y1="370.7" x2="529" y2="398"/>
<line x1="497.2" y1="379" x2="497.2" y2="398"/>
<line x1="524.7" y1="379" x2="524.7" y2="398"/>
<line x1="502.2" y1="387.6" x2="502.2" y2="411.5"/>
<line x1="519.1" y1="387.6" x2="519.1" y2="411.5"/>
<rect x="492.5" y="397.8" width="9.7" height="13.7" fill="url(#h)" stroke="none"/>
<rect x="519.1" y="397.8" width="9.9" height="13.7" fill="url(#h)" stroke="none"/>
<path d="M482.3,398 H492.5 V407.8 H486 Q482.3,407.8 482.3,404 Z" fill="url(#h)" stroke="none"/>
<path d="M492.5,386.2 H489.5 Q482.3,386.2 482.3,393.5 V404 Q482.3,407.8 486,407.8 H492.5"/>
<line x1="482.3" y1="398" x2="538.5" y2="398"/>
<line x1="492.5" y1="411.5" x2="538.5" y2="411.5"/>
<line x1="529" y1="398" x2="529" y2="411.5"/>
<line x1="510.7" y1="396" x2="510.7" y2="413.5"/>
<line x1="537.8" y1="398" x2="537.8" y2="411.5" stroke-width="1.0"/>
<text x="536.4" y="408" font-size="6.8" text-anchor="start" transform="rotate(-90 536.4 408)">16</text>
<text x="504.7" y="443" font-size="10.8" text-anchor="start" textLength="18.5" lengthAdjust="spacingAndGlyphs" stroke-width="0.45">Б-Б</text>
<line x1="503.4" y1="456.5" x2="525.8" y2="456.5" stroke-width="1.0"/>
<text x="515" y="455.6" font-size="7" text-anchor="middle">24</text>
<line x1="506" y1="464.6" x2="523.4" y2="464.6" stroke-width="1.0"/>
<text x="514.7" y="463.8" font-size="6.8" text-anchor="middle">20</text>
<line x1="503.4" y1="454.5" x2="503.4" y2="490.3"/>
<line x1="525.8" y1="454.5" x2="525.8" y2="470.6"/>
<line x1="506" y1="462.6" x2="506" y2="480.3"/>
<line x1="523.4" y1="462.6" x2="523.4" y2="480.3"/>
<line x1="501" y1="470.6" x2="536.5" y2="470.6" stroke-width="1.1"/>
<line x1="501.9" y1="480.3" x2="536.5" y2="480.3"/>
<path d="M501,470.6 L496.2,475.8 Q497,478.5 501.9,478.3"/>
<line x1="501.9" y1="490.3" x2="527.2" y2="490.3" stroke-width="1.0"/>
<line x1="527.2" y1="480.3" x2="527.2" y2="490.3"/>
<text x="514.5" y="489.4" font-size="7" text-anchor="middle">26</text>
<line x1="514.6" y1="468" x2="514.6" y2="482"/>
<line x1="535.6" y1="470.6" x2="535.6" y2="490" stroke-width="1.0"/>
<text x="534.6" y="490.3" font-size="6.8" text-anchor="start" transform="rotate(-90 534.6 490.3)">11</text>
</g>
<g id="table">
<text x="611.6" y="336.3" font-size="6" text-anchor="start" fill="#dcdfe1" textLength="83.6" lengthAdjust="spacing">Техническая характеристика</text>
<rect x="585.1" y="343.2" width="157.4" height="57.9"/>
<line x1="585.1" y1="356" x2="742.5" y2="356"/>
<line x1="585.1" y1="365.3" x2="742.5" y2="365.3"/>
<line x1="585.1" y1="374.2" x2="742.5" y2="374.2"/>
<line x1="585.1" y1="383.5" x2="742.5" y2="383.5"/>
<line x1="634.2" y1="392.5" x2="742.5" y2="392.5"/>
<line x1="634.2" y1="383.5" x2="634.2" y2="401.1"/>
<line x1="687.9" y1="343.2" x2="687.9" y2="401.1"/>
<line x1="706" y1="343.2" x2="706" y2="401.1"/>
<line x1="724.2" y1="343.2" x2="724.2" y2="401.1"/>
<text x="621.5" y="352.6" font-size="6.5" text-anchor="middle" fill="#dcdfe1">Параметр</text>
<rect x="587" y="357.55" width="71.2" height="4.7" fill="#ffffff" stroke="none"/>
<rect x="587" y="366.75" width="63" height="5.1" fill="#ffffff" stroke="none"/>
<rect x="588" y="374.75" width="22.8" height="4.7" fill="#ffffff" stroke="none"/>
<rect x="587" y="388.25" width="32" height="5.0" fill="#ffffff" stroke="none"/>
<rect x="636" y="383.95" width="17.9" height="4.3" fill="#ffffff" stroke="none"/>
<rect x="636" y="392.75" width="32.7" height="4.3" fill="#ffffff" stroke="none"/>
<path d="M688.6,343.4 H703 V348.1 H698.8 V351.8 H688.6 Z" fill="#ffffff" stroke="none"/>
<path d="M706.7,343.4 H720.9 V348.1 H716.7 V351.8 H706.7 Z" fill="#ffffff" stroke="none"/>
<path d="M724.9,343.4 H738.3 V348.1 H730.5 V351.8 H724.9 Z" fill="#ffffff" stroke="none"/>
<rect x="710.1" y="358.15" width="5.7" height="4.1" fill="#ffffff" stroke="none"/>
<rect x="707.3" y="366.75" width="11.3" height="4.5" fill="#ffffff" stroke="none"/>
<rect x="711" y="376.45" width="7" height="3.8" fill="#ffffff" stroke="none"/>
<rect x="710.3" y="384.45" width="4.5" height="3.8" fill="#ffffff" stroke="none"/>
<rect x="707.2" y="393.95" width="12.2" height="4.3" fill="#ffffff" stroke="none"/>
<text x="697" y="362.3" font-size="4.5" text-anchor="middle" font-weight="bold" fill="#f4f4f4">T</text>
<text x="697" y="371.6" font-size="4.5" text-anchor="middle" font-weight="bold" fill="#f4f4f4">nII</text>
<line x1="692.7" y1="378.7" x2="701.5" y2="378.7"/>
<text x="697" y="390" font-size="4.5" text-anchor="middle" font-weight="bold" fill="#f4f4f4">P</text>
<text x="697" y="398.8" font-size="4.5" text-anchor="middle" font-weight="bold" fill="#f4f4f4">n</text>
<text x="733.5" y="362.6" font-size="4.3" text-anchor="middle" font-weight="bold" fill="#f4f4f4">22,4</text>
<text x="733.5" y="371.8" font-size="4.3" text-anchor="middle" font-weight="bold" fill="#f4f4f4">57,4</text>
<text x="733.5" y="381" font-size="4.3" text-anchor="middle" font-weight="bold" fill="#f4f4f4">12000</text>
<text x="735" y="390.2" font-size="4.3" text-anchor="middle" font-weight="bold" fill="#f4f4f4">0,2</text>
<text x="733.5" y="399.2" font-size="4.3" text-anchor="middle" font-weight="bold" fill="#f4f4f4">950</text>
<rect x="585.6" y="410.95" width="9.4" height="4.0" fill="#ffffff" stroke="none"/>
<text x="595.2" y="415.3" font-size="6.4" text-anchor="start" font-weight="bold" fill="#f2f2f2" textLength="68" lengthAdjust="spacingAndGlyphs">Технические условия</text>
<rect x="585.6" y="422.95" width="130.5" height="4.3" fill="#ffffff" stroke="none"/>
<rect x="585.6" y="426.75" width="76.6" height="5.0" fill="#ffffff" stroke="none"/>
<rect x="585.6" y="431.25" width="87.3" height="5.0" fill="#ffffff" stroke="none"/>
<rect x="585.6" y="435.75" width="56.2" height="4.3" fill="#ffffff" stroke="none"/>
<rect x="585.6" y="441.05" width="132.4" height="4.2" fill="#ffffff" stroke="none"/>
<rect x="585.6" y="444.75" width="15.4" height="4.5" fill="#ffffff" stroke="none"/>
<rect x="585.6" y="449.95" width="73.4" height="4.4" fill="#ffffff" stroke="none"/>
<rect x="585.6" y="453.85" width="85.4" height="4.3" fill="#ffffff" stroke="none"/>
<rect x="585.6" y="459.05" width="56.2" height="4.2" fill="#ffffff" stroke="none"/>
<rect x="585.6" y="462.75" width="122.3" height="4.6" fill="#ffffff" stroke="none"/>
<rect x="585.6" y="468.25" width="118.4" height="3.9" fill="#ffffff" stroke="none"/>
</g>
<g id="title">
<line x1="590.0" y1="480.0" x2="751.3" y2="480.0"/>
<line x1="590.0" y1="480.0" x2="590.0" y2="528.8"/>
<line x1="596.2" y1="480.0" x2="596.2" y2="528.8" stroke-width="1.0"/>
<line x1="605.1" y1="480.0" x2="605.1" y2="528.8" stroke-width="1.0"/>
<line x1="626.6" y1="480.0" x2="626.6" y2="528.8" stroke-width="1.0"/>
<line x1="639.7" y1="480.0" x2="639.7" y2="528.8" stroke-width="1.0"/>
<line x1="649.2" y1="480.0" x2="649.2" y2="528.8"/>
<line x1="590.0" y1="484.4" x2="649.2" y2="484.4" stroke-width="0.85"/>
<line x1="590.0" y1="488.9" x2="649.2" y2="488.9" stroke-width="0.85"/>
<line x1="590.0" y1="493.3" x2="649.2" y2="493.3" stroke-width="0.85"/>
<line x1="590.0" y1="497.7" x2="649.2" y2="497.7" stroke-width="0.85"/>
<line x1="590.0" y1="502.2" x2="649.2" y2="502.2" stroke-width="0.85"/>
<line x1="590.0" y1="506.6" x2="649.2" y2="506.6" stroke-width="0.85"/>
<line x1="590.0" y1="511.1" x2="649.2" y2="511.1" stroke-width="0.85"/>
<line x1="590.0" y1="515.5" x2="649.2" y2="515.5" stroke-width="0.85"/>
<line x1="590.0" y1="519.9" x2="649.2" y2="519.9" stroke-width="0.85"/>
<line x1="590.0" y1="524.4" x2="649.2" y2="524.4" stroke-width="0.85"/>
<line x1="649.2" y1="493.3" x2="751.3" y2="493.3"/>
<line x1="649.2" y1="515" x2="751.3" y2="515"/>
<line x1="706.7" y1="493.3" x2="706.7" y2="528.8"/>
<line x1="706.7" y1="497.5" x2="751.3" y2="497.5" stroke-width="1.0"/>
<line x1="706.7" y1="511.5" x2="751.3" y2="511.5" stroke-width="1.0"/>
<line x1="720.8" y1="493.3" x2="720.8" y2="511.5" stroke-width="1.0"/>
<line x1="735" y1="493.3" x2="735" y2="511.5" stroke-width="1.0"/>
<line x1="711" y1="497.5" x2="711" y2="511.5" stroke-width="0.85"/>
<line x1="716.5" y1="497.5" x2="716.5" y2="511.5" stroke-width="0.85"/>
<line x1="727" y1="511.5" x2="727" y2="515" stroke-width="0.85"/>
<text x="652.2" y="488.3" font-size="7.6" text-anchor="start" fill="#d8dbdd" textLength="67.5" lengthAdjust="spacing">ДМ422-03.40.00 СБ</text>
<text x="650.6" y="501.2" font-size="6.2" text-anchor="start" font-weight="bold" font-style="italic" fill="#ffffff" stroke-width="0.5" textLength="46" lengthAdjust="spacingAndGlyphs">Привод цепного</text>
<text x="650.6" y="509" font-size="6.2" text-anchor="start" font-weight="bold" font-style="italic" fill="#ffffff" stroke-width="0.5" textLength="43" lengthAdjust="spacingAndGlyphs">транспортера</text>
<text x="708.5" y="496.8" font-size="3.4" text-anchor="start" font-style="italic" fill="#ffffff" stroke-width="0.3">Лит.</text>
<text x="723" y="496.8" font-size="3.4" text-anchor="start" font-style="italic" fill="#ffffff" stroke-width="0.3">Масса</text>
<text x="737" y="496.8" font-size="3.4" text-anchor="start" font-style="italic" fill="#ffffff" stroke-width="0.3">Масшт.</text>
<text x="741" y="506.3" font-size="4" text-anchor="middle" font-weight="bold" fill="#f4f4f4">1:4</text>
<text x="708" y="514.6" font-size="3.4" text-anchor="start" font-style="italic" fill="#ffffff" stroke-width="0.3">Лист 1</text>
<text x="728.5" y="514.6" font-size="3.4" text-anchor="start" font-style="italic" fill="#ffffff" stroke-width="0.3">Листов 1</text>
<text x="729" y="519.6" font-size="4" text-anchor="middle" font-style="italic" fill="#ffffff" stroke-width="0.3">КГТУ им. Туполева</text>
<text x="731" y="523.4" font-size="4" text-anchor="middle" font-style="italic" fill="#ffffff" stroke-width="0.3">Кафедра ОКМ</text>
<text x="731" y="527.3" font-size="4" text-anchor="middle" font-style="italic" fill="#ffffff" stroke-width="0.3">Группа 3343</text>
<rect x="591.3" y="500.55" width="5.2" height="9.0" fill="#ffffff" stroke="none"/>
<rect x="596.5" y="505.75" width="2.5" height="3.8" fill="#ffffff" stroke="none"/>
<text x="598" y="507.6" font-size="3.4" text-anchor="start" font-style="italic" fill="#ffffff" stroke-width="0.3" font-weight="bold">Пров.</text>
<rect x="606" y="507.25" width="18" height="2.0" fill="#ffffff" stroke="none"/>
<text x="606" y="505" font-size="3.2" text-anchor="start" font-style="italic" fill="#ffffff" stroke-width="0.3">Иванов А.А.</text>
<text x="627" y="502.2" font-size="3.3" text-anchor="start" font-style="italic" fill="#ffffff" stroke-width="0.3">Подп.</text>
<text x="640" y="502.2" font-size="3.3" text-anchor="start" font-style="italic" fill="#ffffff" stroke-width="0.3">Дата</text>
</g>
<g stroke="#f2f2f2">
<line x1="5.3" y1="483" x2="5.3" y2="534" stroke-width="1.3"/>
<rect x="1.1" y="528.6" width="9.6" height="7.4" stroke-width="1.2"/>
<path d="M7.7,466.7 L13.5,472.5 L19.6,466.7 M13.5,472.5 V478.5" stroke-width="1.3"/>
<path d="M60,520 L72.5,531.8 M72.5,520 L60,531.8" stroke-width="1.3"/>
</g>
</g>
</svg>
</body></html>
